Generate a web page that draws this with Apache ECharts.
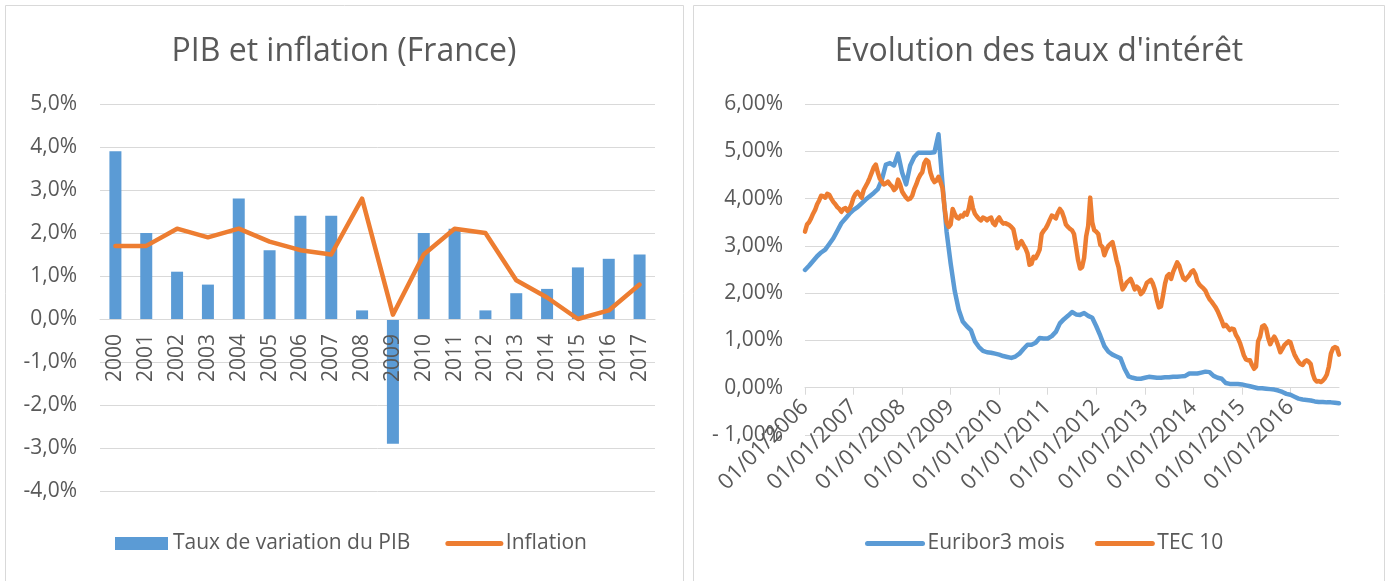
<!DOCTYPE html>
<html>
<head>
<meta charset="utf-8">
<script src="https://cdn.jsdelivr.net/npm/echarts@6/dist/echarts.min.js"></script>
<style>
  html, body { margin: 0; padding: 0; background: #fff; }
  #main { width: 1391px; height: 581px; }
</style>
</head>
<body>
<div id="main"></div>
<script>
// PIB et inflation (France), en %
var years = ['2000', '2001', '2002', '2003', '2004', '2005', '2006', '2007', '2008',
  '2009', '2010', '2011', '2012', '2013', '2014', '2015', '2016', '2017'];
var pib = [3.9, 2.0, 1.1, 0.8, 2.8, 1.6, 2.4, 2.4, 0.2, -2.9, 2.0, 2.1, 0.2, 0.6, 0.7, 1.2, 1.4, 1.5];
var inflation = [1.7, 1.7, 2.1, 1.9, 2.1, 1.8, 1.6, 1.5, 2.8, 0.1, 1.5, 2.1, 2.0, 0.9, 0.5, 0.0, 0.2, 0.8];
var pibMin = -4, pibMax = 5;

// Taux d'intérêt : début janvier 2006, Euribor mensuel, TEC 10 bimensuel (en %)
var startYear = 2006, endYear = 2017;
var rateMin = -1, rateMax = 6;
var euriborPerYear = 12;
var euribor = [
  2.49, 2.58, 2.68, 2.78, 2.86, 2.92, 3.04, 3.16, 3.32, 3.48, 3.58, 3.68,
  3.76, 3.82, 3.90, 3.98, 4.05, 4.12, 4.20, 4.40, 4.72, 4.75, 4.70, 4.95,
  4.55, 4.30, 4.70, 4.88, 4.97, 4.97, 4.97, 4.97, 4.98, 5.36, 4.30, 3.30,
  2.63, 2.05, 1.65, 1.40, 1.30, 1.22, 0.98, 0.86, 0.78, 0.75, 0.74, 0.72,
  0.70, 0.67, 0.65, 0.63, 0.66, 0.72, 0.82, 0.91, 0.91, 0.95, 1.05, 1.04,
  1.04, 1.09, 1.18, 1.36, 1.45, 1.52, 1.60, 1.55, 1.54, 1.58, 1.52, 1.48,
  1.30, 1.10, 0.88, 0.76, 0.70, 0.66, 0.62, 0.40, 0.24, 0.21, 0.19, 0.19,
  0.21, 0.23, 0.22, 0.21, 0.21, 0.22, 0.22, 0.23, 0.23, 0.24, 0.25, 0.30,
  0.30, 0.30, 0.32, 0.34, 0.33, 0.25, 0.21, 0.19, 0.10, 0.08, 0.08, 0.08,
  0.07, 0.05, 0.03, 0.01, -0.01, -0.01, -0.02, -0.03, -0.04, -0.06, -0.09, -0.13,
  -0.15, -0.19, -0.23, -0.25, -0.26, -0.27, -0.29, -0.30, -0.30, -0.31, -0.31, -0.32,
  -0.33
];
var tecPerYear = 24;
var tec10 = [
  3.30, 3.45, 3.50, 3.58, 3.68, 3.76, 3.88, 3.96, 4.06, 4.05, 4.02, 4.10,
  4.08, 4.00, 3.93, 3.88, 3.82, 3.78, 3.72, 3.78, 3.80, 3.74, 3.78, 3.88,
  4.02, 4.10, 4.14, 4.08, 4.02, 4.18, 4.26, 4.34, 4.44, 4.55, 4.66, 4.72,
  4.55, 4.42, 4.36, 4.30, 4.32, 4.36, 4.30, 4.26, 4.18, 4.22, 4.40, 4.30,
  4.15, 4.08, 4.02, 3.98, 4.00, 4.06, 4.20, 4.30, 4.42, 4.50, 4.56, 4.75,
  4.82, 4.78, 4.55, 4.42, 4.35, 4.38, 4.46, 4.35, 4.22, 3.80, 3.50, 3.40,
  3.45, 3.78, 3.68, 3.60, 3.58, 3.64, 3.62, 3.70, 3.66, 3.79, 4.02, 3.80,
  3.68, 3.62, 3.57, 3.54, 3.60, 3.58, 3.54, 3.58, 3.60, 3.48, 3.44, 3.55,
  3.60, 3.52, 3.47, 3.48, 3.46, 3.44, 3.40, 3.35, 3.15, 2.95, 3.05, 3.10,
  3.02, 2.95, 2.84, 2.60, 2.62, 2.77, 2.74, 2.82, 2.92, 3.25, 3.32, 3.37,
  3.45, 3.55, 3.64, 3.62, 3.58, 3.70, 3.78, 3.72, 3.60, 3.45, 3.40, 3.36,
  3.33, 3.25, 2.98, 2.70, 2.52, 2.55, 2.75, 3.20, 3.42, 4.02, 3.50, 3.33,
  3.30, 3.25, 3.02, 2.98, 2.80, 2.92, 3.00, 3.04, 3.08, 2.90, 2.70, 2.55,
  2.30, 2.08, 2.14, 2.22, 2.26, 2.30, 2.20, 2.08, 2.14, 2.10, 1.98, 2.02,
  2.11, 2.22, 2.25, 2.28, 2.20, 2.07, 1.85, 1.70, 1.72, 1.95, 2.20, 2.36,
  2.40, 2.30, 2.45, 2.55, 2.65, 2.58, 2.44, 2.32, 2.28, 2.33, 2.38, 2.45,
  2.48, 2.40, 2.25, 2.18, 2.14, 2.10, 2.05, 1.95, 1.87, 1.82, 1.76, 1.70,
  1.62, 1.52, 1.42, 1.30, 1.33, 1.28, 1.22, 1.25, 1.24, 1.12, 1.05, 0.95,
  0.82, 0.68, 0.60, 0.58, 0.58, 0.48, 0.40, 0.45, 0.98, 1.08, 1.29, 1.32,
  1.25, 1.05, 0.92, 1.01, 1.08, 1.00, 0.88, 0.75, 0.82, 0.90, 0.94, 0.98,
  0.96, 0.82, 0.70, 0.62, 0.55, 0.50, 0.48, 0.55, 0.58, 0.55, 0.50, 0.30,
  0.18, 0.13, 0.14, 0.12, 0.15, 0.20, 0.28, 0.45, 0.72, 0.83, 0.86, 0.84,
  0.70
];

var BLUE = '#5B9BD5';
var ORANGE = '#ED7D31';
var TEXT = '#595959';
var GRID = '#D9D9D9';
var FONT = 'Open Sans';

var leftGrid = { left: 100, top: 104, width: 555, height: 387 };
var rightGrid = { left: 805, top: 104, width: 534, height: 331 };

function toSeries(values, perYear) {
  return values.map(function (v, i) { return [startYear + i / perYear, v]; });
}

function pct(decimals) {
  return function (v) {
    var s = Math.abs(v).toFixed(decimals).replace('.', ',') + '%';
    if (v < 0) return (decimals === 2 ? '- ' : '-') + s;
    return s;
  };
}

// distance from the bottom of a grid up to its 0 line (x axis sits there)
function zeroOffset(grid, min, max) {
  return -grid.height * (0 - min) / (max - min);
}

// line legend entries: a plain thick line, no marker
function lineLegend(name, color) {
  return { name: name, itemStyle: { opacity: 0 },
    lineStyle: { color: color, width: 5, cap: 'round' } };
}

var chart = echarts.init(document.getElementById('main'), null, { renderer: 'canvas' });

var option = {
  backgroundColor: '#ffffff',
  textStyle: { fontFamily: FONT, color: TEXT },
  animation: false,
  graphic: [
    { type: 'rect', shape: { x: 5.5, y: 5.5, width: 678, height: 620 },
      style: { fill: 'none', stroke: GRID, lineWidth: 1 } },
    { type: 'rect', shape: { x: 693.5, y: 5.5, width: 691, height: 620 },
      style: { fill: 'none', stroke: GRID, lineWidth: 1 } }
  ],
  title: [
    { text: 'PIB et inflation (France)', left: 344, top: 36, textAlign: 'center', padding: 0,
      textStyle: { fontFamily: FONT, fontSize: 32, fontWeight: 'normal', color: TEXT } },
    { text: "Evolution des taux d'intérêt", left: 1039, top: 36, textAlign: 'center', padding: 0,
      textStyle: { fontFamily: FONT, fontSize: 32, fontWeight: 'normal', color: TEXT } }
  ],
  legend: [
    {
      left: 115, top: 533, padding: 0, itemWidth: 53, itemHeight: 13, itemGap: 35,
      textStyle: { fontFamily: FONT, fontSize: 21, color: TEXT },
      data: [{ name: 'Taux de variation du PIB', icon: 'rect' }, lineLegend('Inflation', ORANGE)]
    },
    {
      left: 865, top: 533, padding: 0, itemWidth: 55, itemHeight: 13, itemGap: 30,
      textStyle: { fontFamily: FONT, fontSize: 21, color: TEXT },
      data: [lineLegend('Euribor3 mois', BLUE), lineLegend('TEC 10', ORANGE)]
    }
  ],
  grid: [leftGrid, rightGrid],
  xAxis: [
    {
      type: 'category', gridIndex: 0, data: years, z: 3,
      offset: zeroOffset(leftGrid, pibMin, pibMax),
      axisLine: { onZero: false, lineStyle: { color: GRID, width: 1 } },
      axisTick: { show: false },
      axisLabel: { interval: 0, rotate: 90, margin: 15, fontSize: 21, color: TEXT, fontFamily: FONT }
    },
    {
      type: 'value', gridIndex: 1, min: startYear, max: endYear, interval: 1,
      offset: zeroOffset(rightGrid, rateMin, rateMax),
      axisLine: { onZero: false, lineStyle: { color: GRID, width: 1 } },
      axisTick: { show: true, length: 7, lineStyle: { color: GRID } },
      splitLine: { show: false },
      axisLabel: {
        rotate: 45, margin: 16, fontSize: 22, color: TEXT, fontFamily: FONT,
        showMaxLabel: false,
        formatter: function (v) { return v >= endYear ? '' : '01/01/' + v; }
      }
    }
  ],
  yAxis: [
    {
      type: 'value', gridIndex: 0, min: pibMin, max: pibMax, interval: 1,
      axisLine: { show: false }, axisTick: { show: false },
      splitLine: { lineStyle: { color: GRID, width: 1 } },
      axisLabel: { margin: 23, fontSize: 21, color: TEXT, fontFamily: FONT, formatter: pct(1) }
    },
    {
      type: 'value', gridIndex: 1, min: rateMin, max: rateMax, interval: 1,
      axisLine: { show: false }, axisTick: { show: false },
      splitLine: { lineStyle: { color: GRID, width: 1 } },
      axisLabel: { margin: 22, fontSize: 21, color: TEXT, fontFamily: FONT, formatter: pct(2) }
    }
  ],
  series: [
    {
      name: 'Taux de variation du PIB', type: 'bar', xAxisIndex: 0, yAxisIndex: 0,
      data: pib, barWidth: 12, itemStyle: { color: BLUE }
    },
    {
      name: 'Inflation', type: 'line', xAxisIndex: 0, yAxisIndex: 0,
      data: inflation, symbol: 'none', z: 4,
      lineStyle: { color: ORANGE, width: 4.5, join: 'round', cap: 'round' },
      itemStyle: { color: ORANGE }
    },
    {
      name: 'Euribor3 mois', type: 'line', xAxisIndex: 1, yAxisIndex: 1,
      data: toSeries(euribor, euriborPerYear), symbol: 'none',
      lineStyle: { color: BLUE, width: 4.5, join: 'round', cap: 'round' },
      itemStyle: { color: BLUE }
    },
    {
      name: 'TEC 10', type: 'line', xAxisIndex: 1, yAxisIndex: 1,
      data: toSeries(tec10, tecPerYear), symbol: 'none',
      lineStyle: { color: ORANGE, width: 4.5, join: 'round', cap: 'round' },
      itemStyle: { color: ORANGE }
    }
  ]
};

chart.setOption(option);
</script>
</body>
</html>
